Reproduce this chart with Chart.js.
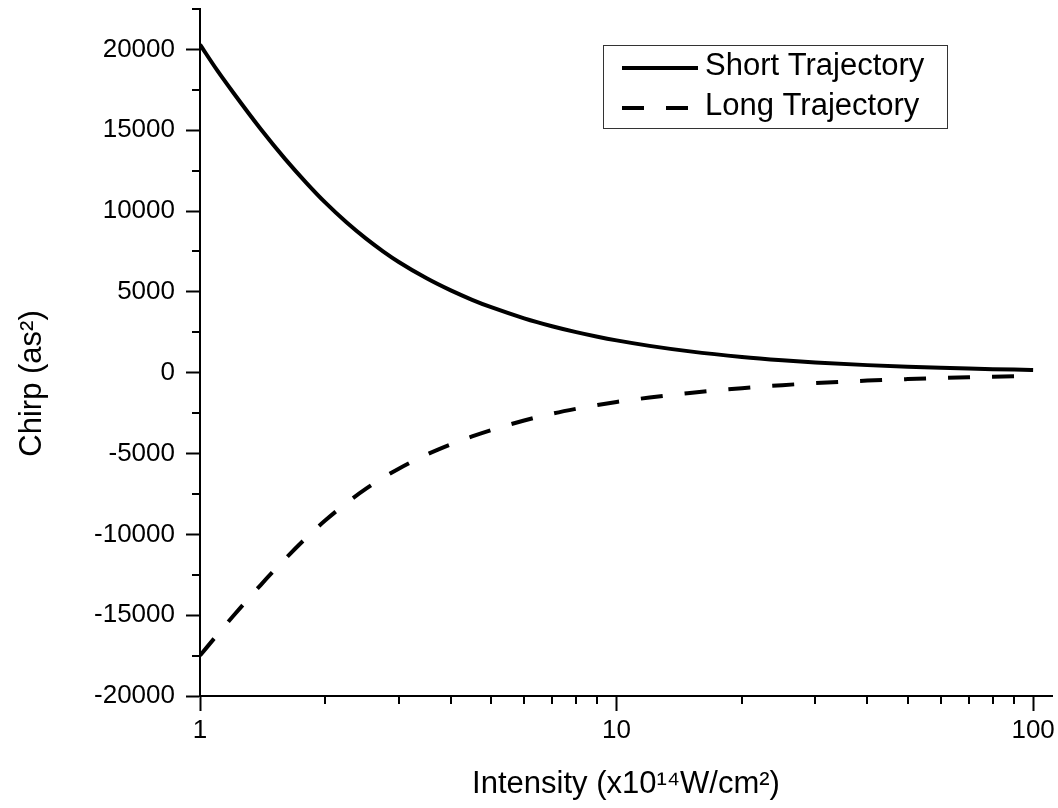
<!DOCTYPE html>
<html><head><meta charset="utf-8">
<script src="https://cdn.jsdelivr.net/npm/chart.js@4/dist/chart.umd.min.js"></script>
<style>html,body{margin:0;padding:0;background:#fff;overflow:hidden}</style>
</head><body>
<canvas id="c" width="1058" height="808"></canvas>
<script>
// ---- data ----
const intensity = [1, 1.1, 1.2, 1.4, 1.6, 1.8, 2, 2.25, 2.5, 2.75, 3, 3.5, 4, 4.5, 5, 6, 7, 8, 9, 10, 12, 15, 20, 25, 30, 40, 50, 60, 70, 80, 90, 100];
const shortChirp = [20300, 18700, 17350, 15060, 13230, 11750, 10520, 9290, 8310, 7510, 6850, 5840, 5090, 4510, 4050, 3365, 2876, 2510, 2226, 2000, 1661, 1320, 978, 774, 638, 469, 369, 302, 255, 220, 193, 172];
const longChirp = [-17500, -16215, -15070, -13120, -11530, -10210, -9130, -8050, -7190, -6500, -5935, -5064, -4430, -3942, -3551, -2959, -2536, -2230, -1995, -1810, -1535, -1250, -955, -770, -645, -488, -393, -330, -284, -249, -221, -199];
const seriesLabels = ['Short Trajectory', 'Long Trajectory'];
const xTickValues = [1, 2, 3, 4, 5, 6, 7, 8, 9, 10, 20, 30, 40, 50, 60, 70, 80, 90, 100];
const xLabelValues = [1, 10, 100];
const yMajorStep = 5000;
const xTitle = 'Intensity (x10\u00B9\u2074W/cm\u00B2)';
const yTitle = 'Chirp (as\u00B2)';

const FONT = "'Liberation Sans', Arial, Helvetica, sans-serif";
Chart.defaults.font.family = FONT;
Chart.defaults.color = '#000';

const toPoints = (xs, ys) => xs.map((x, i) => ({x: x, y: ys[i]}));

const extrasPlugin = {
  id: 'extras',
  afterDraw(chart) {
    const ctx = chart.ctx;
    const xs = chart.scales.x, ys = chart.scales.y;
    const ca = chart.chartArea;
    ctx.save();
    // minor ticks
    ctx.strokeStyle = '#000';
    ctx.lineWidth = 2;
    ctx.beginPath();
    xs.ticks.forEach(t => {
      if (xLabelValues.includes(t.value)) return;
      const px = Math.round(xs.getPixelForValue(t.value));
      ctx.moveTo(px, ca.bottom);
      ctx.lineTo(px, ca.bottom + 8);
    });
    ys.ticks.forEach(t => {
      if (t.value % yMajorStep === 0) return;
      const py = Math.round(ys.getPixelForValue(t.value));
      ctx.moveTo(ca.left, py);
      ctx.lineTo(ca.left - 8, py);
    });
    ctx.stroke();

    // y axis title
    ctx.fillStyle = '#000';
    ctx.font = "31px " + FONT;
    ctx.textAlign = 'center';
    ctx.textBaseline = 'middle';
    ctx.translate(32, (ca.top + ca.bottom) / 2 + 31);
    ctx.rotate(-Math.PI / 2);
    ctx.fillText(yTitle, 0, 0);
    ctx.restore();

    // legend
    ctx.save();
    const bx = 603.5, by = 45.5, bw = 344, bh = 83;
    ctx.strokeStyle = '#333';
    ctx.lineWidth = 1;
    ctx.strokeRect(bx, by, bw, bh);
    const rows = [68, 108];
    chart.data.datasets.forEach((ds, i) => {
      ctx.save();
      ctx.strokeStyle = ds.borderColor;
      ctx.lineWidth = ds.borderWidth;
      ctx.setLineDash(ds.borderDash || []);
      ctx.beginPath();
      ctx.moveTo(622, rows[i]);
      ctx.lineTo(698, rows[i]);
      ctx.stroke();
      ctx.restore();
      ctx.fillStyle = '#000';
      ctx.font = "31px " + FONT;
      ctx.textAlign = 'left';
      ctx.textBaseline = 'middle';
      ctx.fillText(ds.label, 705, rows[i] - 2);
    });
    ctx.restore();
  }
};

new Chart(document.getElementById('c'), {
  type: 'line',
  data: {
    datasets: [
      {label: seriesLabels[0], data: toPoints(intensity, shortChirp), borderColor: '#000', borderWidth: 4,
       pointRadius: 0, cubicInterpolationMode: 'monotone', fill: false},
      {label: seriesLabels[1], data: toPoints(intensity, longChirp), borderColor: '#000', borderWidth: 4,
       borderDash: [22, 22], pointRadius: 0, cubicInterpolationMode: 'monotone', fill: false}
    ]
  },
  options: {
    responsive: false,
    animation: false,
    devicePixelRatio: 1,
    layout: {padding: {top: 9, right: 6, left: 0, bottom: 0}},
    plugins: {legend: {display: false}, tooltip: {enabled: false}},
    scales: {
      x: {
        type: 'logarithmic', position: 'bottom', min: 1, max: 111,
        afterBuildTicks: s => { s.ticks = xTickValues.map(v => ({value: v})); },
        afterFit: s => { s.height = 112; s.paddingLeft = 0; s.paddingRight = 0; },
        ticks: {autoSkip: false, maxRotation: 0, font: {size: 26}, color: '#000', padding: 4,
                callback: v => xLabelValues.includes(v) ? String(v) : ''},
        grid: {display: true, drawOnChartArea: false, drawTicks: true, tickLength: 15, tickWidth: 2,
               tickColor: c => (c.tick && xLabelValues.includes(c.tick.value)) ? '#000' : 'rgba(0,0,0,0)'},
        border: {display: true, color: '#000', width: 2},
        title: {display: true, text: xTitle, font: {size: 31}, color: '#000', padding: {top: 0, bottom: 5}}
      },
      y: {
        type: 'linear', position: 'left', min: -20000, max: 22500,
        afterFit: s => { s.width = 200; s.paddingTop = 0; s.paddingBottom = 0; },
        ticks: {stepSize: 2500, autoSkip: false, font: {size: 26}, color: '#000', padding: 11,
                callback: v => (v % yMajorStep === 0) ? String(v) : ''},
        grid: {display: true, drawOnChartArea: false, drawTicks: true, tickLength: 14, tickWidth: 2,
               tickColor: c => (c.tick && c.tick.value % yMajorStep === 0) ? '#000' : 'rgba(0,0,0,0)'},
        border: {display: true, color: '#000', width: 2},
        title: {display: false}
      }
    }
  },
  plugins: [extrasPlugin]
});
</script>
</body></html>
